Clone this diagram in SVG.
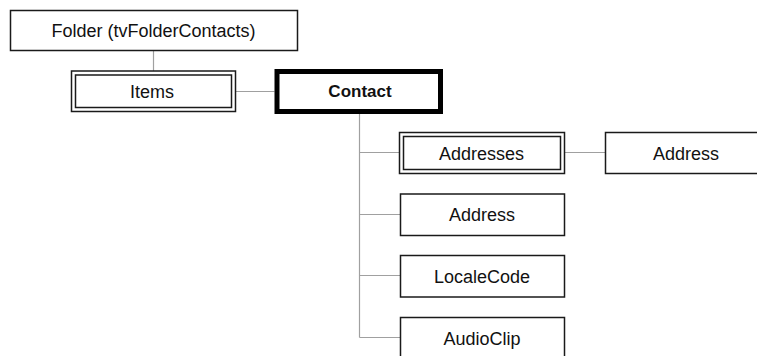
<svg xmlns="http://www.w3.org/2000/svg" width="757" height="356" viewBox="0 0 757 356">
  <style>
    .box { fill: #ffffff; stroke: #1a1a1a; stroke-width: 1.5; }
    .inner { fill: none; stroke: #1a1a1a; stroke-width: 1.5; }
    .key { fill: #ffffff; stroke: #000000; stroke-width: 5; }
    .lbl { font-family: "Liberation Sans", Arial, sans-serif; font-size: 18px; fill: #111111; text-anchor: middle; }
    .bold { font-weight: bold; font-size: 17px; }
    .wire { stroke: #a0a0a0; stroke-width: 1.2; fill: none; }
  </style>
  <rect width="757" height="356" fill="#ffffff"/>

  <g id="connectors">
    <line class="wire" x1="153.5" y1="50.5" x2="153.5" y2="71"/>
    <line class="wire" x1="235.5" y1="91.5" x2="274.5" y2="91.5"/>
    <path class="wire" d="M359.5 114 V337.5"/>
    <line class="wire" x1="359.5" y1="152.5" x2="399.5" y2="152.5"/>
    <line class="wire" x1="359.5" y1="214.5" x2="400.5" y2="214.5"/>
    <line class="wire" x1="359.5" y1="275.5" x2="400.5" y2="275.5"/>
    <line class="wire" x1="359.5" y1="337.5" x2="400.5" y2="337.5"/>
    <line class="wire" x1="565" y1="152.5" x2="605.5" y2="152.5"/>
  </g>

  <g id="folder">
    <rect class="box" x="10.5" y="10.5" width="287" height="40"/>
    <text class="lbl" x="153.5" y="36.5">Folder (tvFolderContacts)</text>
  </g>

  <g id="items">
    <rect class="box" x="71.5" y="71" width="164" height="40.5"/>
    <rect class="inner" x="75.5" y="75" width="156" height="32.5"/>
    <text class="lbl" x="152" y="97.5">Items</text>
  </g>

  <g id="contact">
    <rect class="key" x="277" y="71.5" width="163.5" height="40"/>
    <text class="lbl bold" x="360" y="96.7">Contact</text>
  </g>

  <g id="addresses">
    <rect class="box" x="399.5" y="132.5" width="165" height="41"/>
    <rect class="inner" x="403.5" y="136.5" width="157" height="33"/>
    <text class="lbl" x="481.5" y="159.5">Addresses</text>
  </g>

  <g id="addresses-address">
    <rect class="box" x="605.5" y="132.5" width="164" height="41"/>
    <text class="lbl" x="686" y="159.5">Address</text>
  </g>

  <g id="address">
    <rect class="box" x="400.5" y="194" width="164" height="41.5"/>
    <text class="lbl" x="482" y="221">Address</text>
  </g>

  <g id="locale-code">
    <rect class="box" x="400.5" y="255.5" width="164" height="41.5"/>
    <text class="lbl" x="482" y="282.5">LocaleCode</text>
  </g>

  <g id="audio-clip">
    <rect class="box" x="400.5" y="317.5" width="164" height="41.5"/>
    <text class="lbl" x="482" y="344.5">AudioClip</text>
  </g>
</svg>
